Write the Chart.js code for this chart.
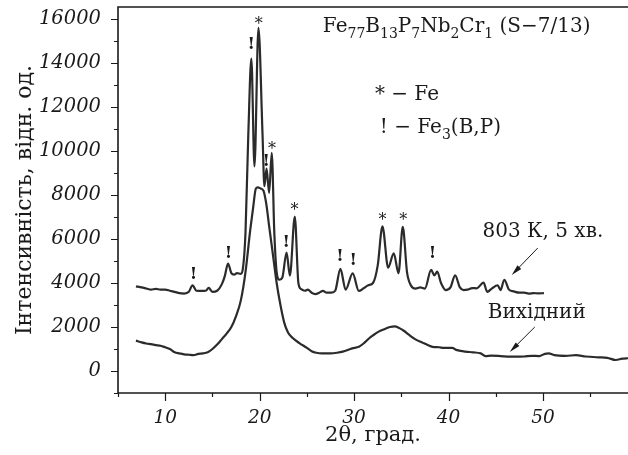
<!DOCTYPE html>
<html>
<head>
<meta charset="utf-8">
<script src="https://cdn.jsdelivr.net/npm/chart.js@4.4.1/dist/chart.umd.min.js"></script>
<style>
  body { margin: 0; background: #fff; }
  canvas { display: block; }
</style>
</head>
<body>
<canvas id="xrd" width="628" height="455"></canvas>
<script>
// 2theta / intensity, sample after 803 K, 5 min
const annealX = [6.9, 7.5, 8.0, 8.5, 9.0, 9.5, 10.0, 10.5, 11.0, 11.5, 12.0, 12.5, 12.9, 13.3, 13.8, 14.3, 14.6, 15.0, 15.5, 16.0, 16.3, 16.65, 17.0, 17.3, 17.6, 18.0, 18.2, 18.5, 18.8, 19.12, 19.45, 19.87, 20.3, 20.5, 20.73, 21.0, 21.28, 21.55, 21.8, 22.1, 22.4, 22.85, 23.2, 23.72, 24.1, 24.4, 24.8, 25.1, 25.5, 25.9, 26.3, 26.7, 27.1, 27.6, 28.0, 28.55, 29.1, 29.85, 30.5, 31.0, 31.5, 32.0, 32.5, 33.0, 33.6, 34.2, 34.7, 35.15, 35.6, 36.0, 36.5, 37.0, 37.5, 38.15, 38.5, 38.8, 39.2, 39.7, 40.2, 40.7, 41.2, 41.6, 42.0, 42.5, 43.0, 43.7, 44.1, 44.6, 45.2, 45.5, 45.9, 46.4, 46.9, 47.5, 48.0, 48.5, 49.0, 49.5, 50.1];
const annealY = [3850, 3800, 3750, 3700, 3730, 3700, 3700, 3650, 3600, 3540, 3520, 3600, 3900, 3650, 3640, 3650, 3780, 3600, 3650, 3950, 4300, 4880, 4450, 4380, 4450, 4420, 4600, 6300, 10800, 14200, 9300, 15600, 10800, 8400, 9200, 8100, 9920, 6300, 4500, 4150, 4250, 5380, 4330, 7020, 4000, 3720, 3650, 3700, 3560, 3500, 3560, 3640, 3560, 3560, 3650, 4640, 3700, 4440, 3640, 3760, 3900, 4000, 4800, 6580, 4700, 5350, 4450, 6550, 4500, 3900, 3750, 3800, 3750, 4600, 4350, 4520, 4000, 3680, 3800, 4350, 3800, 3680, 3700, 3770, 3760, 4020, 3600, 3760, 3900, 3680, 4150, 3700, 3620, 3560, 3560, 3520, 3540, 3530, 3540];

// initial (as-quenched) sample
const initialX = [6.9, 7.5, 8.0, 8.5, 9.0, 9.5, 10.0, 10.5, 11.0, 11.5, 12.0, 12.5, 13.0, 13.5, 14.0, 14.5, 15.0, 15.5, 16.0, 16.5, 17.0, 17.5, 18.0, 18.5, 19.0, 19.3, 19.6, 19.8, 20.1, 20.4, 20.7, 21.0, 21.4, 21.8, 22.2, 22.6, 23.0, 23.5, 24.2, 25.0, 25.5, 26.0, 26.6, 27.5, 28.2, 28.8, 29.8, 30.5, 31.0, 31.6, 32.0, 32.6, 33.2, 33.8, 34.3, 34.8, 35.3, 35.8, 36.5, 37.2, 37.8, 38.3, 39.0, 39.5, 40.4, 40.8, 41.8, 42.6, 43.4, 43.9, 44.5, 45.5, 46.5, 47.1, 48.0, 48.8, 49.6, 50.2, 50.6, 51.2, 52.4, 53.5, 54.5, 55.9, 56.8, 57.7, 58.4, 59.0];
const initialY = [1380, 1300, 1250, 1220, 1180, 1150, 1080, 1000, 850, 800, 760, 740, 720, 780, 800, 850, 1000, 1200, 1450, 1700, 2000, 2500, 3200, 4500, 6400, 7400, 8300, 8350, 8300, 8200, 7600, 6600, 5300, 4000, 3000, 2200, 1750, 1500, 1270, 1050, 900, 830, 800, 800, 830, 880, 1030, 1100, 1250, 1490, 1620, 1790, 1900, 2000, 2030, 1950, 1820, 1650, 1440, 1300, 1180, 1100, 1080, 1050, 1050, 960, 880, 850, 800, 680, 700, 680, 650, 650, 660, 690, 680, 780, 800, 720, 690, 720, 660, 620, 600, 500, 560, 580];

// peak markers: * = Fe, ! = Fe3(B,P)
const markX = [13.0, 16.7, 19.1, 19.9, 20.7, 21.3, 22.8, 23.7, 28.5, 29.9, 33.0, 35.2, 38.3];
const markY = [4450, 5410, 14900, 16050, 9590, 10360, 5910, 7590, 5270, 5090, 7140, 7140, 5410];
const markSym = ["!", "!", "!", "*", "!", "*", "!", "*", "!", "!", "*", "*", "!"];

const yTickLabels = [0, 2000, 4000, 6000, 8000, 10000, 12000, 14000, 16000];
const xTickLabels = [10, 20, 30, 40, 50];

const serif = "'DejaVu Serif', 'Liberation Serif', serif";
const ink = "#1a1a1a";
const curveColor = "#2b2b2b";

function toPoints(xs, ys) {
    return xs.map((x, i) => ({ x: x, y: ys[i] }));
}

// draw a string made of normal and subscript pieces
function drawRich(ctx, parts, x, y, size) {
    let cx = x;
    parts.forEach(p => {
        const sub = p[1] === 1;
        ctx.font = (sub ? Math.round(size * 0.7) : size) + "px " + serif;
        ctx.fillText(p[0], cx, sub ? y + size * 0.28 : y);
        cx += ctx.measureText(p[0]).width;
    });
}

function arrow(ctx, x1, y1, x2, y2) {
    const ang = Math.atan2(y2 - y1, x2 - x1);
    const len = 11, half = 2.6;
    ctx.beginPath();
    ctx.moveTo(x1, y1);
    ctx.lineTo(x2 - Math.cos(ang) * len * 0.8, y2 - Math.sin(ang) * len * 0.8);
    ctx.stroke();
    ctx.beginPath();
    ctx.moveTo(x2, y2);
    ctx.lineTo(x2 - Math.cos(ang) * len - Math.sin(ang) * half, y2 - Math.sin(ang) * len + Math.cos(ang) * half);
    ctx.lineTo(x2 - Math.cos(ang) * len + Math.sin(ang) * half, y2 - Math.sin(ang) * len - Math.cos(ang) * half);
    ctx.closePath();
    ctx.fill();
}

const decorPlugin = {
    id: "decor",
    afterDraw(chart) {
        const ctx = chart.ctx;
        const xs = chart.scales.x, ys = chart.scales.y;
        const a = chart.chartArea;
        ctx.save();
        ctx.strokeStyle = ink;
        ctx.fillStyle = ink;

        // frame: left, bottom, top
        ctx.lineWidth = 1.6;
        ctx.beginPath();
        ctx.moveTo(a.right, a.top);
        ctx.lineTo(a.left, a.top);
        ctx.lineTo(a.left, a.bottom);
        ctx.lineTo(a.right, a.bottom);
        ctx.stroke();

        // ticks
        ctx.lineWidth = 1.2;
        ctx.beginPath();
        for (let v = -1000; v <= 16000; v += 1000) {
            const py = Math.round(ys.getPixelForValue(v)) + 0.5;
            const len = v % 2000 === 0 ? 7 : 4;
            ctx.moveTo(a.left, py);
            ctx.lineTo(a.left - len, py);
        }
        for (let v = 5; v <= 55; v += 5) {
            const px = Math.round(xs.getPixelForValue(v)) + 0.5;
            const len = v % 10 === 0 ? 8 : 4;
            ctx.moveTo(px, a.bottom);
            ctx.lineTo(px, a.bottom + len);
        }
        ctx.stroke();

        // peak markers
        ctx.textAlign = "center";
        ctx.textBaseline = "alphabetic";
        markX.forEach((mx, i) => {
            const px = xs.getPixelForValue(mx);
            const py = ys.getPixelForValue(markY[i]);
            if (markSym[i] === "*") {
                ctx.font = "16px " + serif;
                ctx.fillText("*", px, py + 11);
            } else {
                ctx.font = "bold 17px " + serif;
                ctx.fillText("!", px, py + 6);
            }
        });

        // text labels
        ctx.textAlign = "left";
        drawRich(ctx, [["Fe", 0], ["77", 1], ["B", 0], ["13", 1], ["P", 0], ["7", 1], ["Nb", 0], ["2", 1], ["Cr", 0], ["1", 1], [" (S\u22127/13)", 0]],
            xs.getPixelForValue(26.69), ys.getPixelForValue(15410), 20);
        drawRich(ctx, [["* \u2212 Fe", 0]], xs.getPixelForValue(32.2), ys.getPixelForValue(12320), 20);
        drawRich(ctx, [["! \u2212 Fe", 0], ["3", 1], ["(B,P)", 0]], xs.getPixelForValue(32.72), ys.getPixelForValue(10820), 20);
        drawRich(ctx, [["803 \u041a, 5 \u0445\u0432.", 0]], xs.getPixelForValue(43.6), ys.getPixelForValue(6100), 20);
        drawRich(ctx, [["\u0412\u0438\u0445\u0456\u0434\u043d\u0438\u0439", 0]], xs.getPixelForValue(44.15), ys.getPixelForValue(2410), 20);

        // arrows to the curves
        ctx.lineWidth = 1;
        arrow(ctx, xs.getPixelForValue(49.44), ys.getPixelForValue(5590), xs.getPixelForValue(46.69), ys.getPixelForValue(4364));
        arrow(ctx, xs.getPixelForValue(49.13), ys.getPixelForValue(2000), xs.getPixelForValue(46.48), ys.getPixelForValue(864));

        // axis titles
        ctx.textAlign = "center";
        ctx.font = "21px " + serif;
        ctx.fillText("2\u03b8, \u0433\u0440\u0430\u0434.", (a.left + a.right) / 2, 441);
        ctx.translate(31, (a.top + a.bottom) / 2);
        ctx.rotate(-Math.PI / 2);
        ctx.font = "22px " + serif;
        ctx.fillText("\u0406\u043d\u0442\u0435\u043d\u0441\u0438\u0432\u043d\u0456\u0441\u0442\u044c, \u0432\u0456\u0434\u043d. \u043e\u0434.", 0, 0);
        ctx.restore();
    }
};

const ctx = document.getElementById("xrd").getContext("2d");
const xrdChart = new Chart(ctx, {
    type: "line",
    data: {
        datasets: [{
            label: "803 K, 5 min",
            data: toPoints(annealX, annealY),
            borderColor: curveColor,
            borderWidth: 2.2,
            pointRadius: 0,
            cubicInterpolationMode: "monotone",
            fill: false,
        }, {
            label: "initial",
            data: toPoints(initialX, initialY),
            borderColor: curveColor,
            borderWidth: 2.2,
            pointRadius: 0,
            cubicInterpolationMode: "monotone",
            fill: false,
        }],
    },
    options: {
        responsive: false,
        animation: false,
        layout: { padding: { top: 7, right: 0, left: 0, bottom: 0 } },
        plugins: {
            legend: { display: false },
            tooltip: { enabled: false },
        },
        scales: {
            x: {
                type: "linear",
                min: 5,
                max: 59,
                afterBuildTicks: (s) => { s.ticks = xTickLabels.map(v => ({ value: v })); },
                afterFit: (s) => { s.height = 62; s.paddingLeft = 0; s.paddingRight = 0; },
                grid: { display: false, drawTicks: false },
                border: { display: false },
                ticks: {
                    autoSkip: false,
                    maxRotation: 0,
                    padding: 14,
                    color: ink,
                    font: { family: serif, size: 18.5, style: "italic" },
                },
            },
            y: {
                min: -1000,
                max: 16550,
                afterBuildTicks: (s) => { s.ticks = yTickLabels.map(v => ({ value: v })); },
                afterFit: (s) => { s.width = 118; s.paddingTop = 0; s.paddingBottom = 0; },
                grid: { display: false, drawTicks: false },
                border: { display: false },
                ticks: {
                    autoSkip: false,
                    padding: 17,
                    color: ink,
                    font: { family: serif, size: 19.5, style: "italic" },
                    callback: (v) => String(v),
                },
            },
        },
    },
    plugins: [decorPlugin],
});
</script>
</body>
</html>
